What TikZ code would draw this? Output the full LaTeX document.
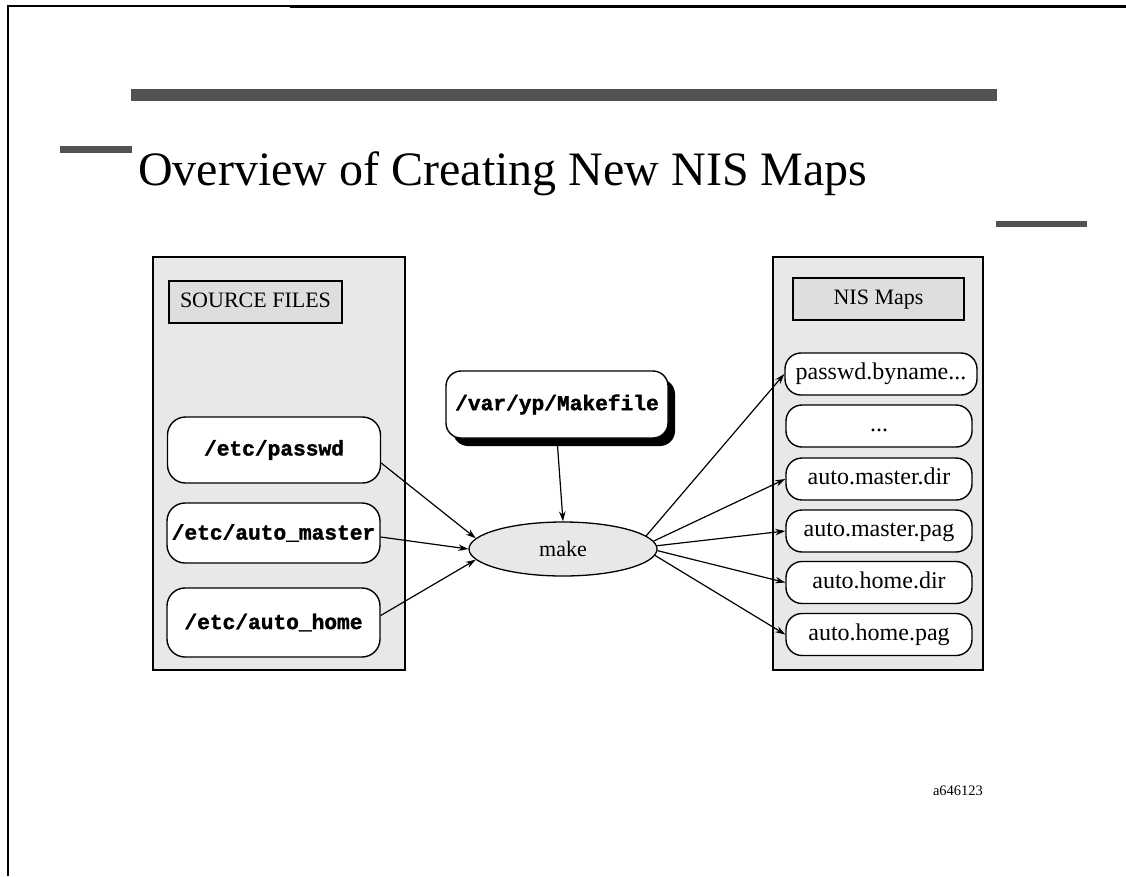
\documentclass[tikz,border=0pt]{standalone}
\usepackage{fontspec}
\setmainfont{Liberation Serif}
\setmonofont{Liberation Mono}[BoldFeatures={FakeBold=1.6}]
\usetikzlibrary{arrows.meta,shapes.geometric,shadows}
\begin{document}
\begin{tikzpicture}[x=1pt,y=-1pt,
  bar/.style={fill=black!68},
  panel/.style={draw, line width=1.7pt, fill=black!9, inner sep=0pt},
  labelbox/.style={draw, line width=1.5pt, fill=black!13, inner sep=0pt,
    text height=15pt, text depth=5pt,
    font=\fontsize{22}{24}\selectfont},
  srcbox/.style={draw, line width=1.4pt, fill=white, rounded corners=18pt,
    inner sep=0pt, minimum width=213pt,
    font=\fontsize{21.2}{23}\selectfont\ttfamily\bfseries},
  mapbox/.style={draw, line width=1.4pt, fill=white, rounded corners=16pt,
    inner sep=0pt, minimum width=186pt, minimum height=42pt,
    text height=16pt, text depth=5pt,
    font=\fontsize{24}{26}\selectfont},
  flow/.style={line width=1.2pt, -{Stealth[length=10pt,width=6.5pt]}}
]
\useasboundingbox (0,0) rectangle (1126,876);

% page frame
\draw[line width=2pt] (8,876) -- (8,5.5) -- (290,5.5);
\draw[line width=3pt] (290,6.5) -- (1126,6.5);

% heading bars and title
\fill[bar] (131,89) rectangle (997,101);
\fill[bar] (60,146) rectangle (132,153);
\fill[bar] (996,221) rectangle (1087,227);
\node[anchor=base west, inner sep=0pt, font=\fontsize{48}{52}\selectfont]
  (title) at (138,185) {Overview of Creating New NIS Maps};

% source panel
\node[panel, minimum width=252pt, minimum height=413pt] (srcpanel) at (279,463.5) {};
\node[labelbox, minimum width=173pt, minimum height=42pt] (srclabel) at (255.5,302) {SOURCE FILES};
\node[srcbox, minimum height=66pt] (passwd) at (274,450) {/etc/passwd};
\node[srcbox, minimum height=60pt] (master) at (273.5,533) {/etc/auto\_master};
\node[srcbox, minimum height=69pt] (home) at (273.5,622.5) {/etc/auto\_home};

% map panel
\node[panel, minimum width=210pt, minimum height=413pt] (mappanel) at (878,463.5) {};
\node[labelbox, minimum width=171pt, minimum height=42pt] (maplabel) at (878.5,299) {NIS Maps};
\node[mapbox, minimum width=192pt] (byname) at (881,374) {passwd.byname...};
\node[mapbox] (more) at (879,426) {...};
\node[mapbox] (mdir) at (879,479) {auto.master.dir};
\node[mapbox] (mpag) at (879,531) {auto.master.pag};
\node[mapbox] (hdir) at (879,582.5) {auto.home.dir};
\node[mapbox] (hpag) at (879,634.5) {auto.home.pag};

% makefile and make
\node[draw, line width=1.4pt, fill=white, rounded corners=15pt, inner sep=0pt,
  minimum width=222pt, minimum height=67pt,
  drop shadow={shadow xshift=7pt, shadow yshift=-8pt, opacity=1, fill=black},
  font=\fontsize{21.2}{23}\selectfont\ttfamily\bfseries]
  (mf) at (557,404.5) {/var/yp/Makefile};
\node[ellipse, draw, line width=1.3pt, fill=black!9, inner sep=0pt,
  minimum width=188pt, minimum height=54pt, font=\fontsize{22}{24}\selectfont]
  (make) at (563,549) {make};

% inputs
\draw[flow] (mf.south) -- (make.north);
\draw[flow] ([yshift=-13pt]passwd.east) -- (make.173);
\draw[flow] ([yshift=-4pt]master.east) -- (make.180);
\draw[flow] ([yshift=7pt]home.east) -- (make.187);

% outputs
\draw[flow] (make.9) -- (byname.west);
\draw[flow] (make.5) -- (mdir.west);
\draw[flow] (make.2) -- (mpag.west);
\draw[flow] (make.-1) -- (hdir.west);
\draw[flow] (make.-4) -- (hpag.west);

\node[font=\fontsize{14.5}{16}\selectfont, inner sep=0pt] (code) at (958,791) {a646123};
\end{tikzpicture}
\end{document}
